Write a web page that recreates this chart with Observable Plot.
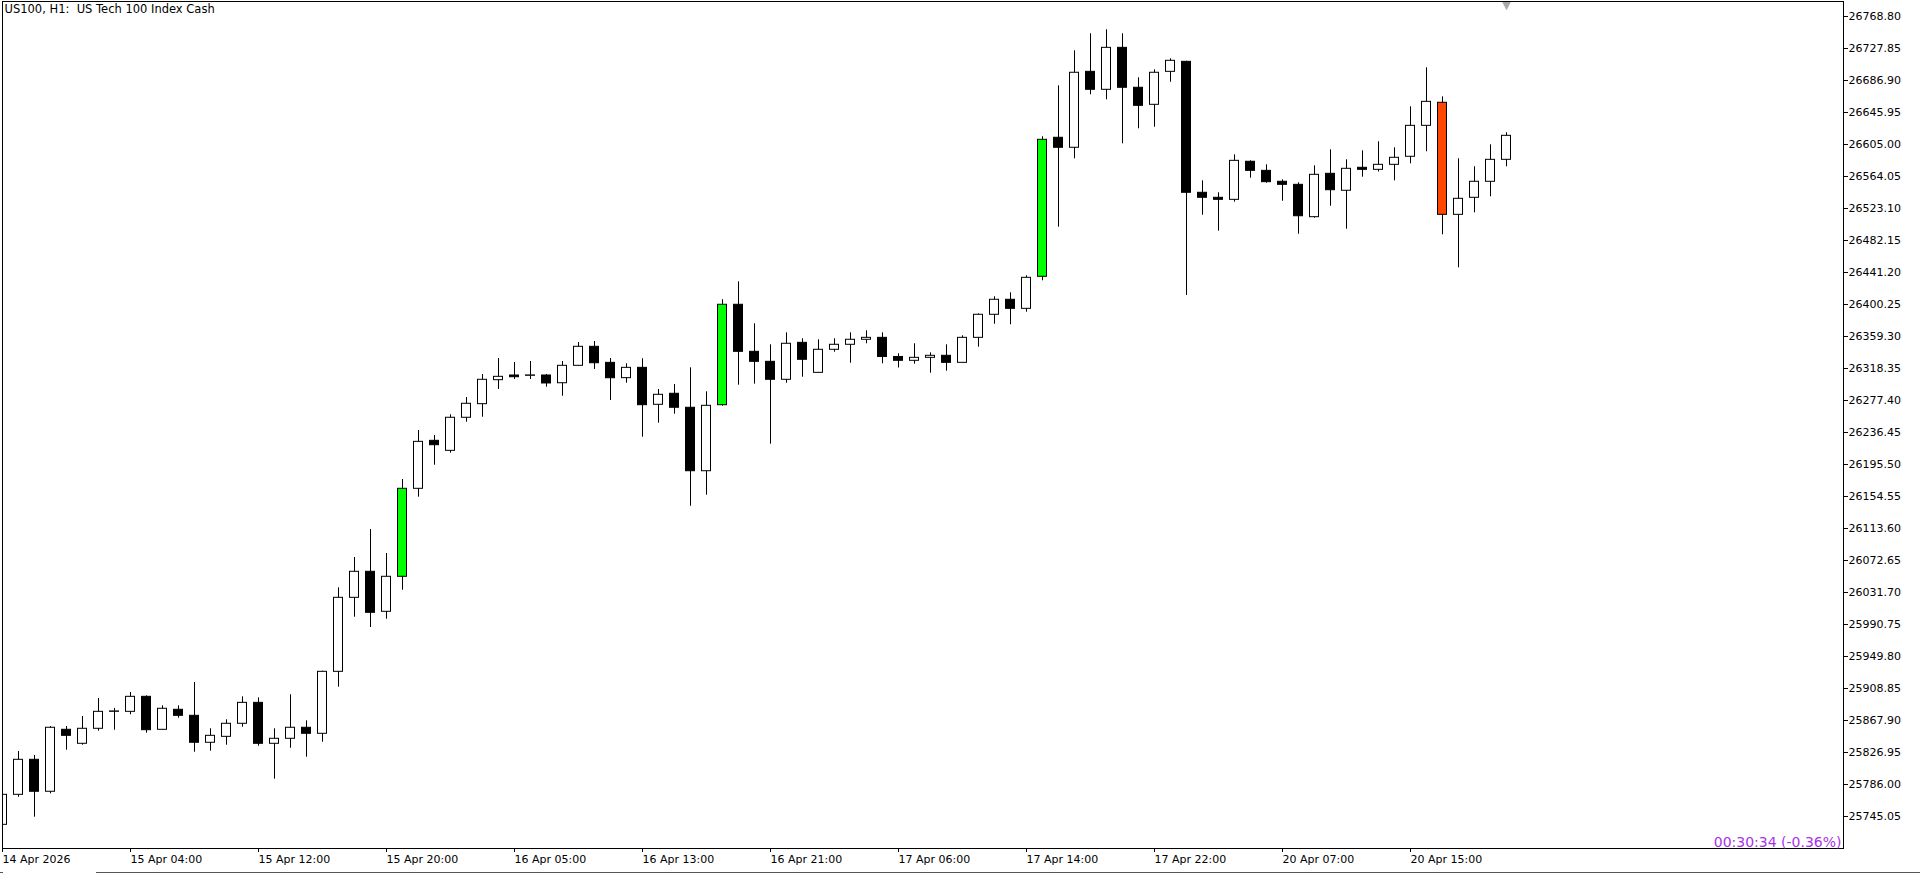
<!DOCTYPE html>
<html>
<head>
<meta charset="utf-8">
<script src="https://cdn.jsdelivr.net/npm/d3@7"></script>
<script src="https://cdn.jsdelivr.net/npm/@observablehq/plot@0.6"></script>
<style>
  body { margin: 0; background: #fff; overflow: hidden; }
  #chart svg { display: block; }
</style>
</head>
<body>
<div id="chart"></div>
<script>

// US100 H1 candles (index 0 = 14 Apr 2026)
const open = [
  25734.4, 25772.8, 25817.6, 25776.7, 25856.0, 25838.1, 25857.3, 25879.0, 25879.0, 25898.2,
  25856.0, 25881.6, 25873.9, 25839.4, 25847.0, 25863.7, 25890.5, 25838.1, 25844.5, 25858.6,
  25850.9, 25930.2, 26024.9, 26058.2, 26007.0, 26051.8, 26164.4, 26225.8, 26213.0, 26255.3,
  26272.7, 26303.4, 26309.4, 26309.0, 26309.4, 26299.5, 26321.8, 26346.1, 26325.6, 26306.0,
  26319.2, 26271.9, 26286.0, 26268.1, 26186.9, 26271.4, 26399.9, 26339.7, 26326.9, 26303.9,
  26351.2, 26312.8, 26342.3, 26348.7, 26355.1, 26357.6, 26333.1, 26328.2, 26332.0, 26334.6,
  26325.6, 26357.6, 26387.1, 26406.3, 26394.7, 26435.7, 26613.6, 26600.8, 26698.0, 26675.0,
  26728.7, 26677.6, 26655.8, 26698.0, 26710.8, 26543.2, 26536.8, 26534.2, 26582.9, 26571.3,
  26557.3, 26553.4, 26512.0, 26567.5, 26545.8, 26575.2, 26572.6, 26579.0, 26589.3, 26628.9,
  26658.4, 26515.0, 26536.8, 26557.3, 26585.4
];
const high = [
  25775.8, 25828.2, 25823.1, 25860.2, 25860.2, 25873.0, 25896.1, 25883.3, 25903.7, 25899.5,
  25886.7, 25886.7, 25916.5, 25857.3, 25868.8, 25898.2, 25896.9, 25857.3, 25900.8, 25867.5,
  25931.0, 26037.7, 26076.5, 26112.3, 26081.6, 26176.3, 26239.0, 26232.6, 26259.1, 26281.2,
  26310.7, 26331.1, 26326.0, 26327.3, 26310.7, 26327.3, 26351.6, 26352.9, 26331.1, 26324.4,
  26330.8, 26291.5, 26297.9, 26319.2, 26288.5, 26406.3, 26429.3, 26375.6, 26348.7, 26364.0,
  26356.4, 26355.1, 26356.4, 26364.0, 26366.6, 26364.0, 26337.2, 26350.0, 26338.4, 26348.7,
  26360.2, 26388.3, 26410.1, 26415.2, 26437.0, 26614.9, 26680.1, 26724.9, 26746.7, 26751.8,
  26746.7, 26690.4, 26700.6, 26714.7, 26711.5, 26558.5, 26543.2, 26591.8, 26584.1, 26579.0,
  26559.8, 26556.0, 26577.7, 26598.2, 26585.4, 26596.9, 26608.5, 26600.8, 26653.2, 26703.2,
  26666.0, 26586.7, 26576.5, 26604.6, 26620.0
];
const low = [
  25731.0, 25769.7, 25744.2, 25774.1, 25829.9, 25836.3, 25854.2, 25855.5, 25875.2, 25851.6,
  25855.5, 25870.8, 25827.3, 25828.6, 25836.3, 25859.3, 25835.0, 25792.8, 25832.4, 25820.9,
  25840.1, 25910.5, 26000.1, 25986.9, 25997.5, 26034.6, 26153.7, 26194.6, 26210.0, 26249.6,
  26256.0, 26291.5, 26304.3, 26304.3, 26294.4, 26282.9, 26321.3, 26317.1, 26277.4, 26299.5,
  26230.4, 26248.4, 26259.9, 26142.1, 26156.2, 26270.1, 26297.0, 26298.3, 26221.5, 26299.5,
  26307.2, 26312.3, 26339.2, 26325.1, 26350.0, 26324.4, 26319.0, 26323.9, 26312.3, 26314.9,
  26325.3, 26345.6, 26375.0, 26374.3, 26390.4, 26430.6, 26499.2, 26586.7, 26668.6, 26662.2,
  26605.9, 26625.1, 26627.1, 26684.7, 26411.8, 26514.5, 26494.1, 26531.2, 26561.9, 26555.5,
  26532.4, 26490.2, 26510.7, 26526.0, 26496.6, 26563.2, 26569.8, 26558.5, 26580.3, 26595.7,
  26489.4, 26447.2, 26517.6, 26538.1, 26576.5
];
const close = [
  25772.8, 25817.6, 25776.7, 25858.6, 25848.3, 25857.3, 25879.0, 25879.5, 25898.2, 25855.5,
  25882.9, 25873.9, 25839.4, 25848.3, 25863.7, 25890.5, 25838.1, 25844.5, 25858.6, 25850.9,
  25930.2, 26024.9, 26058.2, 26005.7, 26051.8, 26164.4, 26224.5, 26220.2, 26255.3, 26273.2,
  26303.9, 26307.7, 26307.2, 26309.5, 26299.2, 26321.8, 26346.1, 26325.1, 26305.9, 26319.2,
  26271.4, 26284.7, 26268.1, 26186.9, 26270.6, 26399.9, 26339.7, 26326.9, 26303.9, 26350.0,
  26329.5, 26342.3, 26348.7, 26355.1, 26357.6, 26333.1, 26328.2, 26332.0, 26334.6, 26325.6,
  26357.6, 26387.1, 26406.3, 26394.7, 26434.4, 26611.0, 26600.8, 26696.8, 26675.0, 26728.7,
  26677.6, 26654.5, 26696.8, 26712.1, 26543.2, 26536.8, 26534.2, 26584.1, 26571.3, 26556.8,
  26553.4, 26513.2, 26566.2, 26546.5, 26573.9, 26572.6, 26579.0, 26588.0, 26628.9, 26659.6,
  26515.0, 26535.5, 26557.3, 26585.4, 26616.1
];

// bars the terminal paints in colour
const greenBars = [25, 45, 65];
const redBars = [90];

const xTickIdx = [0, 8, 16, 24, 32, 40, 48, 56, 64, 72, 80, 88];
const xTickLabels = [
  "14 Apr 2026", "15 Apr 04:00", "15 Apr 12:00", "15 Apr 20:00", "16 Apr 05:00", "16 Apr 13:00",
  "16 Apr 21:00", "17 Apr 06:00", "17 Apr 14:00", "17 Apr 22:00", "20 Apr 07:00", "20 Apr 15:00"
];
const yTicks = [
  26768.80, 26727.85, 26686.90, 26645.95, 26605.00, 26564.05, 26523.10, 26482.15, 26441.20,
  26400.25, 26359.30, 26318.35, 26277.40, 26236.45, 26195.50, 26154.55, 26113.60, 26072.65,
  26031.70, 25990.75, 25949.80, 25908.85, 25867.90, 25826.95, 25786.00, 25745.05
];

const title = "US100, H1:\u00a0 US Tech 100 Index Cash";
const timer = "00:30:34 (-0.36%)";

const candles = open.map((o, i) => ({i, open: o, high: high[i], low: low[i], close: close[i]}));
const xLabel = new Map(xTickIdx.map((d, k) => [d, xTickLabels[k]]));

const bodyColor = d =>
  greenBars.includes(d.i) ? "#00ff00"
  : redBars.includes(d.i) ? "#ff4500"
  : d.close >= d.open ? "white" : "black";

let chart = Plot.plot({
  width: 1920,
  height: 874,
  marginLeft: 2,
  marginRight: 77,
  marginTop: 1,
  marginBottom: 26,
  style: {fontFamily: "DejaVu Sans", fontSize: "11px", background: "white", color: "black"},
  color: {type: "identity"},
  x: {domain: [0, 115.0625], label: null},
  y: {domain: [25704.1, 26788.0], label: null},
  marks: [
    Plot.ruleX(candles, {x: "i", y1: "low", y2: "high", stroke: "black", strokeWidth: 1, clip: true}),
    Plot.rect(candles, {
      x1: d => d.i - 0.5,
      x2: d => d.i + 0.5,
      y1: "open",
      y2: "close",
      insetLeft: 3.5,
      insetRight: 3.5,
      fill: bodyColor,
      stroke: "black",
      strokeWidth: 1,
      clip: true
    }),
    Plot.frame({stroke: "black"}),
    Plot.axisY(yTicks, {
      anchor: "right",
      tickSize: 4,
      tickPadding: 1,
      tickFormat: d => d.toFixed(2),
      label: null
    }),
    Plot.axisX(xTickIdx, {
      anchor: "bottom",
      tickSize: 4,
      tickPadding: 3,
      textAnchor: "start",
      tickFormat: d => xLabel.get(d),
      label: null
    }),
    Plot.text([title], {
      frameAnchor: "top-left",
      textAnchor: "start",
      lineAnchor: "top",
      dx: 2,
      dy: 3,
      fontSize: 11.5,
      fill: "black"
    }),
    Plot.text([timer], {
      frameAnchor: "bottom-right",
      textAnchor: "end",
      lineAnchor: "bottom",
      dx: -2,
      dy: -2,
      fontSize: 14,
      fill: "#a832e8"
    }),
    // chart shift marker over the last bar
    Plot.text([open.length - 1], {
      x: d => d,
      frameAnchor: "top",
      text: () => "\u25bc",
      lineAnchor: "top",
      dy: 0,
      fontSize: 11,
      fill: "#a8a8a8"
    })
  ]
});

// tab strip edge under the chart
d3.select(chart).append("line")
  .attr("x1", 96).attr("x2", 1920).attr("y1", 872.5).attr("y2", 872.5)
  .attr("stroke", "#555");
d3.select(chart).append("line")
  .attr("x1", 0).attr("x2", 3).attr("y1", 872.5).attr("y2", 872.5)
  .attr("stroke", "#555");

d3.select('#chart').append(() => chart);

</script>
</body>
</html>
